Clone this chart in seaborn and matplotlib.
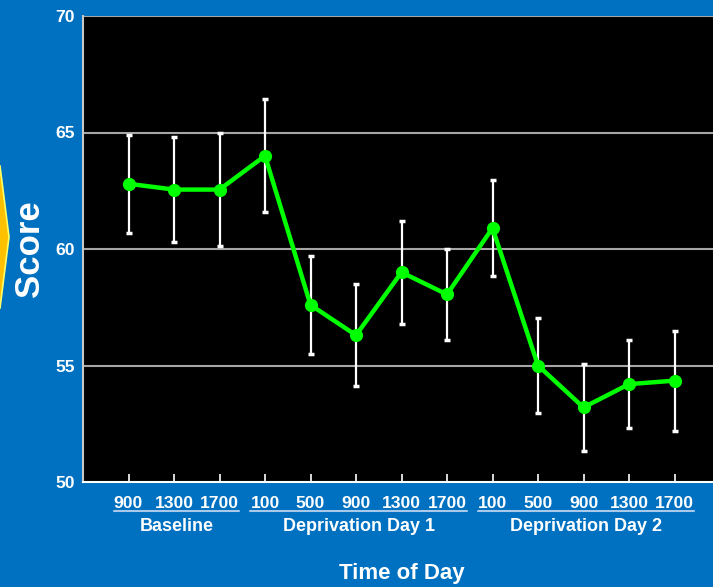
import numpy as np
import pandas as pd
import matplotlib
matplotlib.use("Agg")
import matplotlib.pyplot as plt
from matplotlib.patches import Polygon
import seaborn as sns

# data
times = ['900', '1300', '1700', '100', '500', '900', '1300', '1700',
         '100', '500', '900', '1300', '1700']
groups = ['Baseline'] * 3 + ['Deprivation Day 1'] * 5 + ['Deprivation Day 2'] * 5
scores = [62.8, 62.55, 62.55, 64.0, 57.6, 56.3, 59.0, 58.05, 60.9, 55.0, 53.2, 54.2, 54.35]
errors = [2.1, 2.27, 2.42, 2.42, 2.12, 2.18, 2.2, 1.95, 2.08, 2.05, 1.85, 1.9, 2.15]
group_names = ['Baseline', 'Deprivation Day 1', 'Deprivation Day 2']

df = pd.DataFrame({'pos': np.arange(1, len(times) + 1), 'time': times,
                   'group': groups, 'score': scores, 'err': errors})

bg = '#0070C0'
sns.set_theme(style='dark')
plt.rcParams['font.family'] = ['Liberation Sans', 'DejaVu Sans']
plt.rcParams['font.weight'] = 'bold'

W, H = 713, 587
fig = plt.figure(figsize=(W / 100, H / 100), dpi=100, facecolor=bg)
ax = fig.add_axes([83 / W, (H - 482) / H, 637 / W, 466 / H])
ax.set_facecolor('black')

# error bars first, line on top
ax.errorbar(df['pos'], df['score'], yerr=df['err'], fmt='none', ecolor='white',
            elinewidth=1.6, capsize=2.5, capthick=2.5, zorder=2)
sns.lineplot(data=df, x='pos', y='score', ax=ax, color='#00FF00', linewidth=3.2,
             marker='o', markersize=9.5, markeredgewidth=0, zorder=3)

ax.set_xlim(0, 14)
ax.set_ylim(50, 70)
ax.set_yticks([50, 55, 60, 65, 70])
ax.set_xticks(df['pos'])
ax.set_xticklabels(times)
ax.grid(False)
for v in [55, 60, 65, 70]:
    ax.axhline(v, color='#a6a6a6', linewidth=1.5, zorder=1)

ax.tick_params(axis='y', length=0, pad=6, labelsize=12.6, labelcolor='white')
ax.tick_params(axis='x', direction='in', length=6, width=1.2, color='white',
               pad=10, labelsize=12.6, labelcolor='white', bottom=True)
for lab in ax.get_xticklabels() + ax.get_yticklabels():
    lab.set_fontweight('bold')

for side in ['top', 'right']:
    ax.spines[side].set_visible(False)
ax.spines['left'].set_color('#c8c8c8')
ax.spines['left'].set_linewidth(1.5)
ax.spines['bottom'].set_color('white')
ax.spines['bottom'].set_linewidth(1.5)

ax.set_xlabel('')
ax.set_ylabel('')

# group underlines and labels below tick labels
trans = ax.get_xaxis_transform()
for g in group_names:
    p = df.loc[df['group'] == g, 'pos']
    x0, x1 = p.min() - 0.32, p.max() + 0.43
    ax.plot([x0, x1], [-0.062, -0.062], transform=trans, clip_on=False,
            color='#a9c9ea', linewidth=1.5)
    ax.text((x0 + x1) / 2, -0.096, g, transform=trans, ha='center', va='center',
            color='white', fontsize=13, fontweight='bold')

fig.text(402 / W, 1 - 574 / H, 'Time of Day', ha='center', va='center',
         color='white', fontsize=16, fontweight='bold')
fig.text(30 / W, 1 - 249 / H, 'Score', ha='center', va='center', rotation=90,
         color='white', fontsize=25, fontweight='bold')

# yellow chevron at left edge
pts = [(-20, 166), (0, 166), (9, 237), (0, 308), (-20, 308)]
fig.patches.append(Polygon([(x / W, 1 - y / H) for x, y in pts], closed=True,
                           transform=fig.transFigure, facecolor='#FFC000',
                           edgecolor='#FFFF66', linewidth=1.2))

fig.savefig('out.png', dpi=100, facecolor=bg)
